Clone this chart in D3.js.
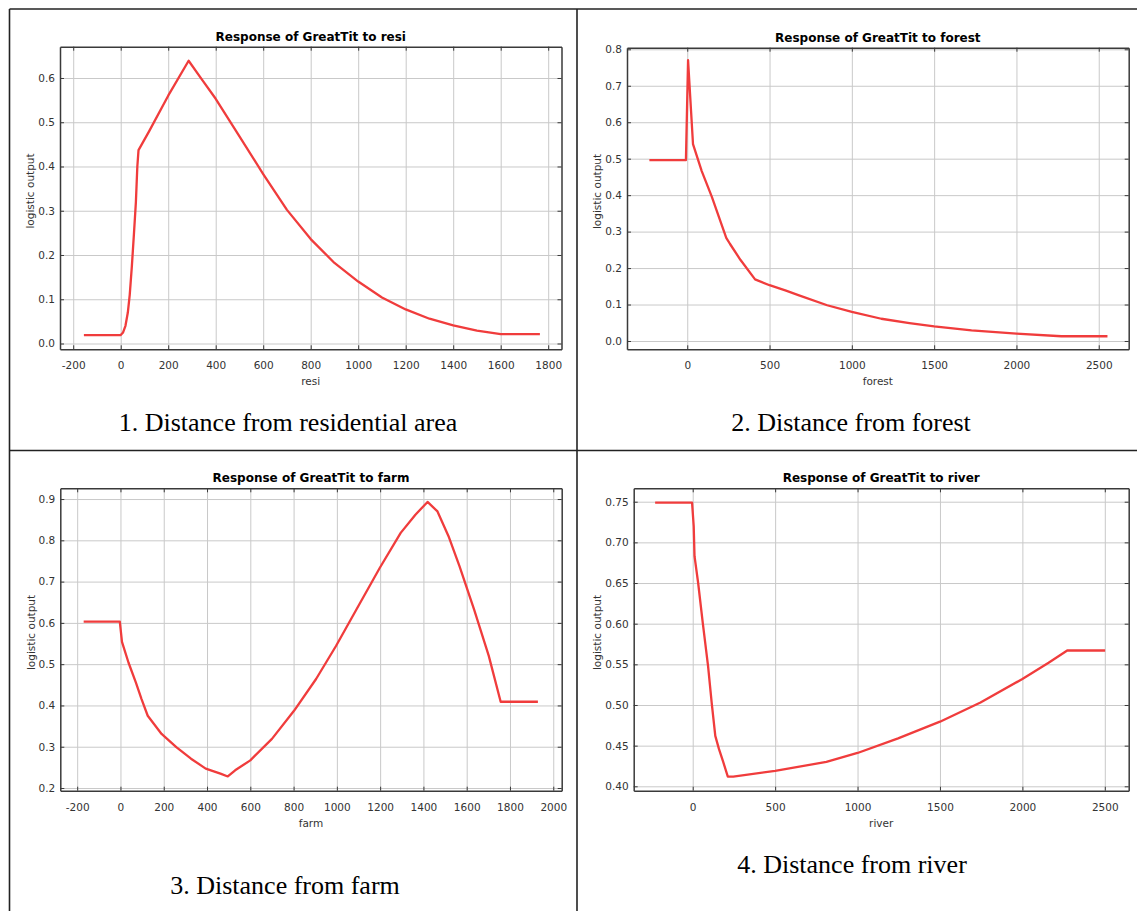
<!DOCTYPE html>
<html>
<head>
<meta charset="utf-8">
<script src="https://cdn.jsdelivr.net/npm/d3@7"></script>
<style>
  body { margin: 0; background: #fff; }
  svg { display: block; }
</style>
</head>
<body>
<svg id="chart" width="1137" height="911"></svg>
<script>
// response curves: [distance, logistic output]
var resiPts = [[-155,0.019],[0,0.019],[10,0.025],[20,0.04],[30,0.07],[38,0.11],[47,0.175],[56,0.25],[64,0.32],[70,0.40],[75,0.437],
  [120,0.48],[200,0.56],[286,0.639],[340,0.598],[400,0.553],[500,0.468],[600,0.383],[700,0.302],[800,0.236],[900,0.182],
  [1000,0.140],[1100,0.104],[1200,0.077],[1300,0.056],[1400,0.041],[1500,0.029],[1600,0.021],[1765,0.021]];
var forestPts = [[-230,0.496],[-8,0.496],[5,0.77],[35,0.54],[88,0.466],[149,0.396],[237,0.283],[260,0.266],[324,0.222],
  [412,0.169],[500,0.153],[600,0.138],[675,0.126],[850,0.098],[1000,0.080],[1179,0.061],[1350,0.049],
  [1500,0.040],[1727,0.029],[2000,0.020],[2273,0.013],[2553,0.013]];
var farmPts = [[-170,0.603],[-3,0.603],[7,0.554],[37,0.504],[71,0.456],[97,0.416],[126,0.375],[190,0.331],[258,0.299],[326,0.271],
  [394,0.247],[462,0.235],[496,0.228],[530,0.243],[600,0.267],[700,0.319],[802,0.387],[904,0.464],[996,0.544],[1091,0.633],
  [1198,0.733],[1295,0.818],[1363,0.862],[1419,0.893],[1465,0.870],[1516,0.810],[1567,0.737],[1634,0.633],[1702,0.520],
  [1757,0.409],[1929,0.409]];
var riverPts = [[-228,0.749],[-4,0.749],[6,0.72],[11,0.683],[33,0.65],[61,0.601],[93,0.548],[115,0.503],[137,0.462],[159,0.446],
  [185,0.430],[213,0.412],[246,0.412],[500,0.419],[811,0.430],[1000,0.441],[1246,0.459],[1500,0.4795],[1746,0.503],
  [2000,0.532],[2159,0.552],[2272,0.567],[2502,0.567]];

// tick values
var resiXTicks = [-200,0,200,400,600,800,1000,1200,1400,1600,1800];
var resiYTicks = [0,0.1,0.2,0.3,0.4,0.5,0.6];
var forestXTicks = [0,500,1000,1500,2000,2500];
var forestYTicks = [0,0.1,0.2,0.3,0.4,0.5,0.6,0.7,0.8];
var farmXTicks = [-200,0,200,400,600,800,1000,1200,1400,1600,1800,2000];
var farmYTicks = [0.2,0.3,0.4,0.5,0.6,0.7,0.8,0.9];
var riverXTicks = [0,500,1000,1500,2000,2500];
var riverYTicks = [0.40,0.45,0.50,0.55,0.60,0.65,0.70,0.75];

var variables = ['resi', 'forest', 'farm', 'river'];
var captions = ['1. Distance from residential area', '2. Distance from forest', '3. Distance from farm', '4. Distance from river'];

var panels = [
  { name: variables[0], pts: resiPts, xt: resiXTicks, yt: resiYTicks, yf: '.1f',
    box: [60, 561.5, 46.7, 349.3], xd: [-255.6, 1856], yd: [-0.0131, 0.6707], cap: [288, 431], caption: captions[0] },
  { name: variables[1], pts: forestPts, xt: forestXTicks, yt: forestYTicks, yf: '.1f',
    box: [627, 1128.7, 47.7, 349.3], xd: [-366, 2682], yd: [-0.0228, 0.8044], cap: [851, 431], caption: captions[1] },
  { name: variables[2], pts: farmPts, xt: farmXTicks, yt: farmYTicks, yf: '.1f',
    box: [60.3, 561.7, 488.3, 790.7], xd: [-278, 2039], yd: [0.1935, 0.926], cap: [285, 894], caption: captions[2] },
  { name: variables[3], pts: riverPts, xt: riverXTicks, yt: riverYTicks, yf: '.2f',
    box: [633.7, 1128.7, 488.3, 790.7], xd: [-358, 2645], yd: [0.3946, 0.7665], cap: [852, 873], caption: captions[3] }
];

var svg = d3.select('#chart');

// outer frame and dividers
var frame = svg.append('g').attr('stroke', '#222').attr('stroke-width', 1.6);
frame.append('line').attr('x1', 9.5).attr('y1', 9).attr('x2', 1137).attr('y2', 9);
frame.append('line').attr('x1', 9.5).attr('y1', 9).attr('x2', 9.5).attr('y2', 911);
frame.append('line').attr('x1', 577).attr('y1', 9).attr('x2', 577).attr('y2', 911);
frame.append('line').attr('x1', 9.5).attr('y1', 450.5).attr('x2', 1137).attr('y2', 450.5);

panels.forEach(function (p) {
  var x0 = p.box[0], x1 = p.box[1], y0 = p.box[2], y1 = p.box[3];
  var w = x1 - x0, h = y1 - y0;
  var x = d3.scaleLinear().domain(p.xd).range([0, w]);
  var y = d3.scaleLinear().domain(p.yd).range([h, 0]);

  var g = svg.append('g').attr('transform', 'translate(' + x0 + ',' + y0 + ')');

  // gridlines
  g.append('g').attr('class', 'grid')
    .call(d3.axisBottom(x).tickValues(p.xt).tickSize(h).tickFormat(''))
    .call(function (s) { s.select('.domain').remove(); });
  g.append('g').attr('class', 'grid')
    .call(d3.axisRight(y).tickValues(p.yt).tickSize(w).tickFormat(''))
    .call(function (s) { s.select('.domain').remove(); });
  g.selectAll('.grid line').attr('stroke', '#c9c9c9').attr('stroke-width', 1);

  // curve
  var line = d3.line().x(function (d) { return x(d[0]); }).y(function (d) { return y(d[1]); });
  g.append('path')
    .datum(p.pts)
    .attr('d', line)
    .attr('fill', 'none')
    .attr('stroke', '#f03c3c')
    .attr('stroke-width', 2.3)
    .attr('stroke-linejoin', 'round');

  // axes, ticks pointing inwards
  g.append('g').attr('transform', 'translate(0,' + h + ')')
    .call(d3.axisBottom(x).tickValues(p.xt).tickSizeInner(-4).tickSizeOuter(0).tickPadding(12.6)
      .tickFormat(function (d) { return String(d); }));
  var ya = g.append('g')
    .call(d3.axisLeft(y).tickValues(p.yt).tickSizeInner(-4).tickSizeOuter(0).tickPadding(5)
      .tickFormat(d3.format(p.yf)));
  g.append('g')
    .call(d3.axisTop(x).tickValues(p.xt).tickSizeInner(-4).tickSizeOuter(0).tickFormat(''));
  g.append('g').attr('transform', 'translate(' + w + ',0)')
    .call(d3.axisRight(y).tickValues(p.yt).tickSizeInner(-4).tickSizeOuter(0).tickFormat(''));

  g.selectAll('.domain').attr('stroke', '#3a3a3a').attr('stroke-width', 1.5);
  g.selectAll('.tick line').filter(function () { return !this.closest('.grid'); })
    .attr('stroke', '#3a3a3a');
  g.selectAll('.tick text')
    .attr('font-family', 'DejaVu Sans')
    .attr('font-size', 10.5)
    .attr('fill', '#333');

  var maxW = 0;
  ya.selectAll('text').each(function () { maxW = Math.max(maxW, this.getComputedTextLength()); });

  // title
  g.append('text')
    .attr('x', w / 2).attr('y', -6)
    .attr('text-anchor', 'middle')
    .attr('font-family', 'DejaVu Sans')
    .attr('font-weight', 'bold')
    .attr('font-size', 12)
    .attr('fill', '#000')
    .text('Response of GreatTit to ' + p.name);

  // axis labels
  g.append('text')
    .attr('x', w / 2).attr('y', h + 36)
    .attr('text-anchor', 'middle')
    .attr('font-family', 'DejaVu Sans')
    .attr('font-size', 10.5)
    .attr('fill', '#333')
    .text(p.name);
  g.append('text')
    .attr('transform', 'translate(' + (-maxW - 9) + ',' + (h / 2 - 7) + ') rotate(-90)')
    .attr('text-anchor', 'middle')
    .attr('font-family', 'DejaVu Sans')
    .attr('font-size', 10.5)
    .attr('fill', '#333')
    .text('logistic output');

  // caption under the panel
  svg.append('text')
    .attr('x', p.cap[0]).attr('y', p.cap[1])
    .attr('text-anchor', 'middle')
    .attr('font-family', 'Liberation Serif, Times New Roman, serif')
    .attr('font-size', 26)
    .attr('fill', '#000')
    .text(p.caption);
});
</script>
</body>
</html>
